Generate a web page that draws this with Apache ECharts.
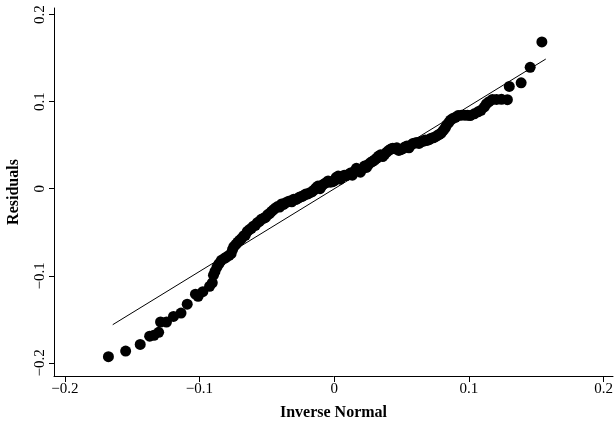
<!DOCTYPE html>
<html>
<head>
<meta charset="utf-8">
<script src="https://cdn.jsdelivr.net/npm/echarts@6/dist/echarts.min.js"></script>
<style>
  html, body { margin: 0; padding: 0; background: #fff; }
  #chart { width: 614px; height: 429px; }
</style>
</head>
<body>
<div id="chart"></div>
<script>
// inverse normal (x) and residuals (y)
var inverseNormal = [
  -0.1676, -0.1548, -0.1440, -0.1370, -0.1338, -0.1303, -0.1289, -0.1245, -0.1193, -0.1137,
  -0.1091, -0.1030, -0.1010, -0.0975, -0.0925, -0.0905, -0.0896, -0.0885, -0.0870, -0.0855,
  -0.0838, -0.0815, -0.0800, -0.0780, -0.0765, -0.0755, -0.0745, -0.0730, -0.0715, -0.0700,
  -0.0688, -0.0672, -0.0660, -0.0645, -0.0630, -0.0615, -0.0600, -0.0585, -0.0570, -0.0555,
  -0.0540, -0.0525, -0.0510, -0.0495, -0.0480, -0.0465, -0.0450, -0.0435, -0.0420, -0.0405,
  -0.0390, -0.0375, -0.0360, -0.0345, -0.0330, -0.0315, -0.0300, -0.0285, -0.0270, -0.0255,
  -0.0240, -0.0225, -0.0210, -0.0195, -0.0180, -0.0165, -0.0150, -0.0135, -0.0120, -0.0105,
  -0.0090, -0.0075, -0.0060, -0.0045, -0.0030, -0.0015, 0.0000, 0.0015, 0.0030, 0.0045,
  0.0060, 0.0075, 0.0090, 0.0105, 0.0120, 0.0135, 0.0150, 0.0165, 0.0180, 0.0195,
  0.0210, 0.0225, 0.0240, 0.0255, 0.0270, 0.0285, 0.0300, 0.0315, 0.0330, 0.0345,
  0.0360, 0.0375, 0.0390, 0.0405, 0.0420, 0.0435, 0.0450, 0.0465, 0.0480, 0.0495,
  0.0510, 0.0525, 0.0540, 0.0555, 0.0570, 0.0585, 0.0600, 0.0615, 0.0630, 0.0645,
  0.0660, 0.0675, 0.0690, 0.0705, 0.0720, 0.0735, 0.0750, 0.0765, 0.0780, 0.0795,
  0.0810, 0.0825, 0.0835, 0.0850, 0.0864, 0.0880, 0.0900, 0.0920, 0.0945, 0.0970,
  0.0990, 0.1010, 0.1040, 0.1068, 0.1090, 0.1115, 0.1130, 0.1150, 0.1175, 0.1205,
  0.1242, 0.1286, 0.1300, 0.1388, 0.1455, 0.1542
];
var residuals = [
  -0.1928, -0.1864, -0.1788, -0.1693, -0.1682, -0.1648, -0.1530, -0.1530, -0.1466, -0.1428,
  -0.1326, -0.1210, -0.1235, -0.1182, -0.1120, -0.1080, -0.0992, -0.0950, -0.0900, -0.0860,
  -0.0822, -0.0800, -0.0784, -0.0765, -0.0746, -0.0700, -0.0665, -0.0640, -0.0612, -0.0590,
  -0.0572, -0.0540, -0.0535, -0.0490, -0.0470, -0.0455, -0.0430, -0.0420, -0.0390, -0.0375,
  -0.0350, -0.0340, -0.0330, -0.0300, -0.0285, -0.0260, -0.0240, -0.0220, -0.0205, -0.0210,
  -0.0175, -0.0180, -0.0160, -0.0150, -0.0140, -0.0150, -0.0120, -0.0125, -0.0110, -0.0095,
  -0.0090, -0.0075, -0.0060, -0.0060, -0.0045, -0.0035, -0.0015, 0.0010, 0.0030, 0.0000,
  0.0040, 0.0055, 0.0070, 0.0090, 0.0075, 0.0080, 0.0090, 0.0130, 0.0145, 0.0110,
  0.0140, 0.0155, 0.0150, 0.0160, 0.0180, 0.0155, 0.0200, 0.0235, 0.0215, 0.0190,
  0.0230, 0.0260, 0.0245, 0.0280, 0.0300, 0.0315, 0.0330, 0.0350, 0.0375, 0.0390,
  0.0370, 0.0395, 0.0420, 0.0440, 0.0455, 0.0465, 0.0460, 0.0470, 0.0440, 0.0450,
  0.0460, 0.0480, 0.0490, 0.0470, 0.0500, 0.0520, 0.0525, 0.0530, 0.0520, 0.0540,
  0.0545, 0.0560, 0.0555, 0.0565, 0.0580, 0.0585, 0.0595, 0.0610, 0.0625, 0.0640,
  0.0670, 0.0700, 0.0731, 0.0760, 0.0788, 0.0805, 0.0820, 0.0840, 0.0845, 0.0845,
  0.0845, 0.0840, 0.0860, 0.0883, 0.0900, 0.0940, 0.0975, 0.1000, 0.1025, 0.1025,
  0.1027, 0.1023, 0.1174, 0.1216, 0.1394, 0.1686
];
// reference line end points
var fitLineX = [-0.1644, 0.1571];
var fitLineY = [-0.1561, 0.1489];
var tickValues = [-0.2, -0.1, 0, 0.1, 0.2];

var points = inverseNormal.map(function (x, i) { return [x, residuals[i]]; });
var fitLine = fitLineX.map(function (x, i) { return [x, fitLineY[i]]; });

function fmt(v) {
  if (v === 0) return '0';
  return String(v).replace('-', '\u2212');
}

var myChart = echarts.init(document.getElementById('chart'));
var option = {
  backgroundColor: '#fff',
  animation: false,
  grid: { left: 54, right: 1, top: 8, bottom: 53, containLabel: false, outerBoundsMode: 'none' },
  xAxis: {
    type: 'value',
    min: -0.208,
    max: 0.207,
    name: 'Inverse Normal',
    nameLocation: 'middle',
    nameGap: 29,
    nameTextStyle: { fontFamily: 'Liberation Serif', fontWeight: 'bold', fontSize: 16, color: '#000' },
    axisLine: { onZero: false, lineStyle: { color: '#000', width: 1 } },
    axisTick: { show: true, length: 6, customValues: tickValues, lineStyle: { color: '#000' } },
    axisLabel: { customValues: tickValues, formatter: fmt, margin: 6, fontFamily: 'Liberation Serif', fontSize: 15, color: '#000' },
    splitLine: { show: false }
  },
  yAxis: {
    type: 'value',
    min: -0.215,
    max: 0.2075,
    name: 'Residuals',
    nameLocation: 'middle',
    nameGap: 32,
    nameRotate: 90,
    nameTextStyle: { fontFamily: 'Liberation Serif', fontWeight: 'bold', fontSize: 16, color: '#000' },
    axisLine: { show: true, onZero: false, lineStyle: { color: '#000', width: 1 } },
    axisTick: { show: true, length: 5, customValues: tickValues, lineStyle: { color: '#000' } },
    axisLabel: { customValues: tickValues, formatter: fmt, rotate: 90, margin: 6, fontFamily: 'Liberation Serif', fontSize: 15, color: '#000' },
    splitLine: { show: false }
  },
  series: [
    {
      type: 'scatter',
      data: points,
      symbol: 'circle',
      symbolSize: 11,
      itemStyle: { color: '#000', opacity: 1 },
      silent: true
    },
    {
      type: 'line',
      data: fitLine,
      symbol: 'none',
      lineStyle: { color: '#000', width: 1 },
      silent: true
    }
  ]
};
myChart.setOption(option);
</script>
</body>
</html>
